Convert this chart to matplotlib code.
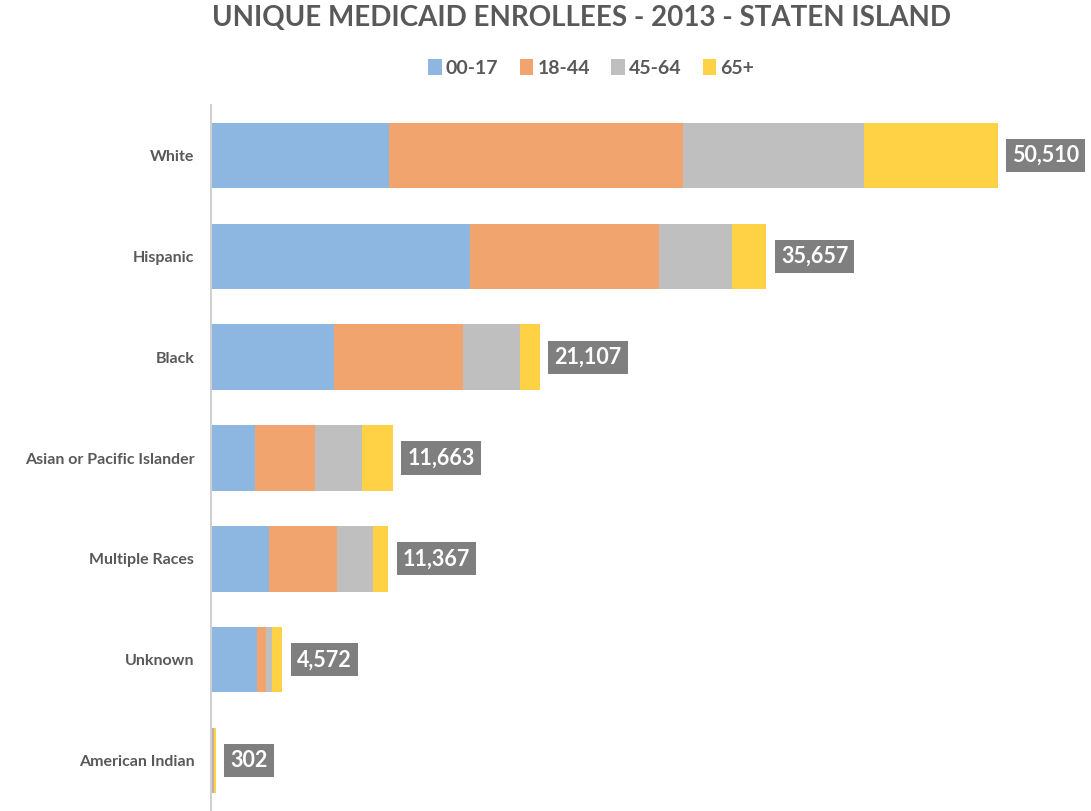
import matplotlib.pyplot as plt
import numpy as np

# values
races = ['White', 'Hispanic', 'Black', 'Asian or Pacific Islander',
         'Multiple Races', 'Unknown', 'American Indian']
ages = ['00-17', '18-44', '45-64', '65+']
age_00_17 = [11425, 16624, 7895, 2824, 3723, 2952, 150]
age_18_44 = [18870, 12131, 8280, 3851, 4364, 578, 25]
age_45_64 = [11618, 4685, 3658, 3017, 2311, 385, 15]
age_65_up = [8597, 2217, 1274, 1971, 969, 657, 112]
totals = ['50,510', '35,657', '21,107', '11,663', '11,367', '4,572', '302']

colors = ['#8db6e1', '#f2a46f', '#bfbfbf', '#ffd246']
text_gray = '#595959'

plt.rcParams['font.family'] = ['Lato', 'DejaVu Sans']

fig = plt.figure(figsize=(10.91, 8.11), dpi=100)
ax = fig.add_axes([211 / 1091, 0, 872 / 1091, 706 / 811])

y = np.arange(len(races))
left = np.zeros(len(races))
for vals, name, c in zip([age_00_17, age_18_44, age_45_64, age_65_up], ages, colors):
    ax.barh(y, vals, left=left, height=0.65, color=c, label=name)
    left = left + np.array(vals)

for yi, end, lab in zip(y, left, totals):
    ax.text(end + 950, yi, lab, ha='left', va='center', color='white',
            fontsize=15.5, fontweight='bold',
            bbox=dict(boxstyle='square,pad=0.28', fc='#7f7f7f', ec='none'))

ax.set_xlim(0, 56000)
ax.set_ylim(6.5, -0.5)
ax.set_yticks(y)
ax.set_yticklabels(races, fontsize=11.5, color=text_gray, fontweight='bold')
ax.set_xticks([])
ax.tick_params(axis='y', length=0, pad=12)
for s in ['top', 'right', 'bottom']:
    ax.spines[s].set_visible(False)
ax.spines['left'].set_color('#d0d0d0')
ax.spines['left'].set_linewidth(1.5)

fig.text(0.533, 0.978, 'UNIQUE MEDICAID ENROLLEES - 2013 - STATEN ISLAND',
         ha='center', va='center', fontsize=20, fontweight='bold',
         color=text_gray)
fig.legend(loc='center', bbox_to_anchor=(0.542, 0.916), ncol=4, frameon=False,
           handlelength=0.7, handleheight=0.9, handletextpad=0.2,
           columnspacing=1.1, labelcolor=text_gray, prop={'weight': 'bold', 'size': 14})

fig.savefig('out.png', dpi=100)
